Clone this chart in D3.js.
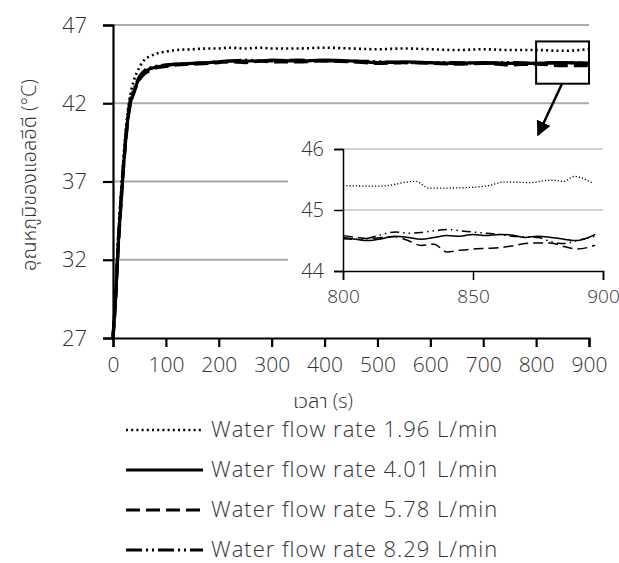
<!DOCTYPE html>
<html lang="th">
<head>
  <meta charset="UTF-8">
  <title>LED temperature</title>
  <script src="https://d3js.org/d3.v7.min.js"></script>
  <style>
    body { margin: 0; background: #fff; }
    text { font-family: "Open Sans", "Noto Sans Thai", "Noto Sans", sans-serif; font-weight: 300; fill: #333; }
  </style>
</head>
<body>
<div id="chart"></div>
<script>
// main chart data (time in s, temperature in °C)
const mainTime = [0, 5, 10, 15, 20, 25, 30, 40, 50, 60, 70, 80, 100, 120, 150, 180, 200, 220, 250, 280, 300, 350, 400, 450, 500, 550, 600, 650, 700, 750, 800, 850, 900];
const flow196 = [27.3, 30.2, 33.6, 36.2, 38.6, 40.6, 42.0, 43.5, 44.3, 44.8, 45.0, 45.15, 45.3, 45.4, 45.45, 45.5, 45.5, 45.55, 45.5, 45.55, 45.5, 45.5, 45.55, 45.5, 45.45, 45.5, 45.45, 45.4, 45.45, 45.4, 45.4, 45.35, 45.45];
const flow401 = [27.0, 29.6, 33.0, 35.6, 38.0, 40.0, 41.5, 42.8, 43.6, 44.0, 44.2, 44.3, 44.4, 44.5, 44.55, 44.6, 44.65, 44.7, 44.7, 44.7, 44.75, 44.7, 44.75, 44.7, 44.6, 44.65, 44.6, 44.55, 44.6, 44.55, 44.55, 44.6, 44.55];
const flow578 = [27.0, 29.4, 32.8, 35.5, 37.9, 39.9, 41.4, 42.7, 43.5, 43.9, 44.1, 44.25, 44.35, 44.45, 44.5, 44.55, 44.6, 44.65, 44.6, 44.7, 44.65, 44.65, 44.7, 44.65, 44.55, 44.6, 44.55, 44.5, 44.55, 44.45, 44.5, 44.4, 44.4];
const flow829 = [27.1, 29.8, 33.2, 35.8, 38.2, 40.2, 41.7, 42.9, 43.7, 44.1, 44.25, 44.35, 44.45, 44.5, 44.55, 44.6, 44.65, 44.7, 44.75, 44.7, 44.7, 44.75, 44.7, 44.7, 44.65, 44.6, 44.6, 44.6, 44.55, 44.6, 44.55, 44.6, 44.55];

// inset data (zoom on 800-900 s)
const insetTime196 = [800, 814, 828, 833, 840, 849, 856, 862, 872, 880, 885, 889, 896];
const inset196 = [45.40, 45.39, 45.47, 45.36, 45.36, 45.37, 45.40, 45.46, 45.45, 45.49, 45.47, 45.55, 45.44];
const insetTime = [800, 805, 810, 815, 820, 825, 830, 835, 840, 845, 850, 855, 860, 865, 870, 875, 880, 885, 890, 897];
const inset401 = [44.55, 44.52, 44.50, 44.53, 44.57, 44.55, 44.52, 44.55, 44.58, 44.57, 44.60, 44.58, 44.60, 44.59, 44.55, 44.57, 44.55, 44.52, 44.50, 44.60];
const inset578 = [44.58, 44.55, 44.53, 44.55, 44.56, 44.50, 44.42, 44.44, 44.31, 44.34, 44.36, 44.37, 44.38, 44.41, 44.45, 44.46, 44.46, 44.40, 44.36, 44.42];
const inset829 = [44.53, 44.52, 44.54, 44.60, 44.64, 44.62, 44.63, 44.66, 44.68, 44.66, 44.64, 44.62, 44.60, 44.57, 44.56, 44.55, 44.48, 44.45, 44.50, 44.57];

const legendLabels = ["Water flow rate 1.96 L/min", "Water flow rate 4.01 L/min", "Water flow rate 5.78 L/min", "Water flow rate 8.29 L/min"];
const mainYTicks = [27, 32, 37, 42, 47];
const mainXTicks = [0, 100, 200, 300, 400, 500, 600, 700, 800, 900];
const insetYTicks = [44, 45, 46];
const insetXTicks = [800, 850, 900];

const dashes = ["2,3.2", null, "14,6", "16,4,2,4,2,4"];

const svg = d3.select("#chart").append("svg")
  .attr("width", 619)
  .attr("height", 563);

// main scales
const x = d3.scaleLinear().domain([0, 900]).range([113, 589]);
const y = d3.scaleLinear().domain([27, 47]).range([338, 25]);

// gridlines
svg.append("g")
  .selectAll("line")
  .data(mainYTicks.slice(1))
  .join("line")
  .attr("x1", x(0)).attr("x2", x(900))
  .attr("y1", d => y(d)).attr("y2", d => y(d))
  .attr("stroke", "#ababab")
  .attr("stroke-width", 2);

// main curves
const mainSeries = [flow196, flow401, flow578, flow829];
const mainLine = d3.line().x((d, i) => x(mainTime[i])).y(d => y(d)).curve(d3.curveMonotoneX);
svg.append("g")
  .selectAll("path")
  .data(mainSeries)
  .join("path")
  .attr("d", mainLine)
  .attr("fill", "none")
  .attr("stroke", "#000")
  .attr("stroke-width", (d, i) => i === 0 ? 2.6 : 3.2)
  .attr("stroke-dasharray", (d, i) => dashes[i]);

// main axes
const yAxis = svg.append("g")
  .attr("transform", `translate(${x(0)},0)`)
  .call(d3.axisLeft(y).tickValues(mainYTicks).tickSize(10).tickPadding(16));
const xAxis = svg.append("g")
  .attr("transform", `translate(0,${y(27)})`)
  .call(d3.axisBottom(x).tickValues(mainXTicks).tickSize(9).tickPadding(10));
[yAxis, xAxis].forEach(a => {
  a.select(".domain").attr("stroke", "#000").attr("stroke-width", 2.2);
  a.selectAll(".tick line").attr("stroke", "#000").attr("stroke-width", 2.2);
  a.selectAll(".tick text").style("font-size", "22px").attr("fill", "#333");
});
xAxis.selectAll(".tick text").style("font-size", "21px");

// axis titles
svg.append("text")
  .attr("transform", "translate(36,175) rotate(-90)")
  .attr("text-anchor", "middle")
  .style("font-size", "20px")
  .text("อุณหภูมิของแอลอีดี  (°C)");
svg.append("text")
  .attr("x", 323).attr("y", 408)
  .attr("text-anchor", "middle")
  .style("font-size", "20px")
  .text("เวลา (s)");

// zoom box and arrow
svg.append("rect")
  .attr("x", x(800)).attr("y", y(45.95))
  .attr("width", x(900) - x(800)).attr("height", y(43.25) - y(45.95))
  .attr("fill", "none").attr("stroke", "#000").attr("stroke-width", 2);
svg.append("defs").append("marker")
  .attr("id", "arrow")
  .attr("viewBox", "0 0 10 10")
  .attr("refX", 9).attr("refY", 5)
  .attr("markerWidth", 6).attr("markerHeight", 6)
  .attr("markerUnits", "strokeWidth")
  .attr("orient", "auto")
  .append("path").attr("d", "M0,0 L10,5 L0,10 z").attr("fill", "#000");
svg.append("line")
  .attr("x1", 562).attr("y1", y(43.25))
  .attr("x2", 538).attr("y2", 135)
  .attr("stroke", "#000").attr("stroke-width", 2.5)
  .attr("marker-end", "url(#arrow)");

// inset
svg.append("rect")
  .attr("x", 288).attr("y", 140).attr("width", 331).attr("height", 172)
  .attr("fill", "#fff");

const ix = d3.scaleLinear().domain([800, 900]).range([343, 603]);
const iy = d3.scaleLinear().domain([44, 46]).range([271, 149]);

svg.append("g")
  .selectAll("line")
  .data([45, 46])
  .join("line")
  .attr("x1", ix(800)).attr("x2", ix(900))
  .attr("y1", d => iy(d)).attr("y2", d => iy(d))
  .attr("stroke", "#ababab")
  .attr("stroke-width", 1.2);

const insetLine = times => d3.line().x((d, i) => ix(times[i])).y(d => iy(d)).curve(d3.curveMonotoneX);
const insetSeries = [
  { v: inset196, t: insetTime196 },
  { v: inset401, t: insetTime },
  { v: inset578, t: insetTime },
  { v: inset829, t: insetTime }
];
svg.append("g")
  .selectAll("path")
  .data(insetSeries)
  .join("path")
  .attr("d", d => insetLine(d.t)(d.v))
  .attr("fill", "none")
  .attr("stroke", "#000")
  .attr("stroke-width", (d, i) => i === 0 ? 1.3 : 1.5)
  .attr("stroke-dasharray", (d, i) => ["1.2,2", null, "10,5", "9,4,1.5,4,1.5,4"][i]);

const iyAxis = svg.append("g")
  .attr("transform", `translate(${ix(800)},0)`)
  .call(d3.axisLeft(iy).tickValues(insetYTicks).tickFormat(d3.format("d")).tickSize(9).tickPadding(10));
const ixAxis = svg.append("g")
  .attr("transform", `translate(0,${iy(44)})`)
  .call(d3.axisBottom(ix).tickValues(insetXTicks).tickSize(9).tickPadding(10));
[iyAxis, ixAxis].forEach(a => {
  a.select(".domain").attr("stroke", "#000").attr("stroke-width", 1.5);
  a.selectAll(".tick line").attr("stroke", "#000").attr("stroke-width", 1.5);
  a.selectAll(".tick text").style("font-size", "20px").attr("fill", "#333");
});
ixAxis.selectAll(".tick text").style("font-size", "19px");

// legend
const legend = svg.append("g");
const rows = legend.selectAll("g")
  .data(legendLabels)
  .join("g")
  .attr("transform", (d, i) => `translate(0,${437 + i * 40})`);
rows.append("line")
  .attr("x1", 126).attr("x2", 203)
  .attr("y1", -7).attr("y2", -7)
  .attr("stroke", "#000")
  .attr("stroke-width", (d, i) => i === 0 ? 2.5 : 3)
  .attr("stroke-dasharray", (d, i) => dashes[i]);
rows.append("text")
  .attr("x", 211).attr("y", 0)
  .style("font-size", "22px")
  .style("letter-spacing", "1px")
  .text(d => d);
</script>
</body>
</html>
